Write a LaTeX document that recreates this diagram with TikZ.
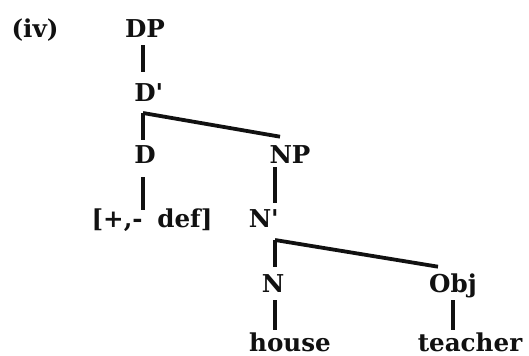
\documentclass[tikz,border=0pt]{standalone}
\usepackage{fontspec}
\usepackage{tikz}
\usetikzlibrary{positioning,calc}
\newfontfamily\treefont{DejaVu Serif}
\definecolor{Ink}{HTML}{111111}
\definecolor{Paper}{HTML}{FFFFFF}

\begin{document}
\begin{tikzpicture}[
	x=0.5pt, y=-0.5pt,
	cat/.style={
		font=\treefont\bfseries\fontsize{12.3}{14}\selectfont,
		text=Ink,
		inner sep=0pt,
		text height=8.9pt,
		text depth=0pt
	},
	branch/.style={draw=Ink, line width=1.9pt}
	]
	\useasboundingbox[fill=Paper] (0,0) rectangle (529,356);
	
	% categories and words
	\node[cat] (label) at (35,29) {(iv)};
	\node[cat] (DP) at (145,29) {DP};
	\node[cat] (Dbar) at (145,93) {D\rlap{'}};
	\node[cat] (D) at (145,155) {D};
	\node[cat] (NP) at (290,155) {NP};
	\node[cat] (feat) at (152,219) {[+,-\hspace{0.6em}def]};
	\node[cat] (Nbar) at (260,219) {N\rlap{'}};
	\node[cat] (N) at (273,284) {N};
	\node[cat] (Obj) at (453,284) {Obj};
	\node[cat] (house) at (290,342.5) {house};
	\node[cat] (teacher) at (470,342.5) {teacher};
	
	\coordinate (Dbar-fork) at (143,113);
	\coordinate (Nbar-fork) at (275,240);
	
	% branches
	\draw[branch, shorten <=3.5pt, shorten >=6pt] (DP.south -| Dbar-fork) -- (Dbar.north -| Dbar-fork);
	\draw[branch, shorten >=3pt] (Dbar-fork) -- (D.north -| Dbar-fork);
	\draw[branch] (Dbar-fork) -- ($(NP.north)+(-10,-9)$);
	\draw[branch, shorten <=6.5pt] (D.south -| Dbar-fork) -- (feat.north -| Dbar-fork);
	\draw[branch, shorten <=1.5pt, shorten >=3.5pt] (NP.south -| Nbar-fork) -- (Nbar.north -| Nbar-fork);
	\draw[branch, shorten >=4pt] (Nbar-fork) -- (N.north -| Nbar-fork);
	\draw[branch] (Nbar-fork) -- ($(Obj.north)+(-15,-8)$);
	\draw[branch, shorten <=3.5pt, shorten >=1.5pt] (N.south -| Nbar-fork) -- (house.north -| Nbar-fork);
	\draw[branch, shorten <=3.5pt, shorten >=1.5pt] (Obj.south) -- (Obj.south |- teacher.north);
\end{tikzpicture}
\end{document}
